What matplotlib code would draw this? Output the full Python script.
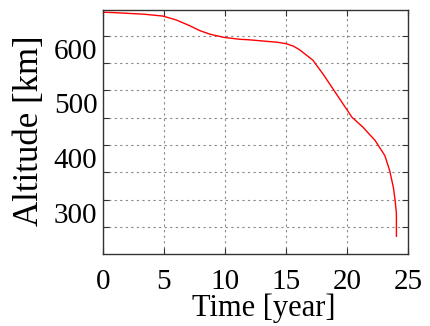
import numpy as np
import matplotlib
matplotlib.use("Agg")
import matplotlib.pyplot as plt
import matplotlib.transforms as mtransforms

# altitude decay
time_yr = [0, 0.8, 3.3, 4.9, 6.0, 7.1, 7.95, 8.8, 9.9, 11.2, 12.0, 14.3,
           15.0, 15.6, 16.1, 17.2, 18.1, 19.2, 19.8, 20.4, 21.3, 22.3, 23.1,
           23.5, 23.8, 23.95, 24.05, 24.05]
alt_km = [643, 642.4, 639.5, 636, 628.9, 618.4, 609.2, 602.6, 597, 593.5,
          592.5, 588, 585.5, 581, 574.5, 555.3, 527.8, 491, 471, 451, 432.7,
          408.3, 380.7, 353, 322.4, 298, 274, 233]
xticks = [0, 5, 10, 15, 20, 25]
yticks = [250, 300, 350, 400, 450, 500, 550, 600]
ylabels = ['', '300', '', '400', '', '500', '', '600']

plt.rcParams['font.family'] = ['Liberation Serif', 'DejaVu Serif']

fig = plt.figure(figsize=(4.3, 3.26), dpi=100)
ax = fig.add_axes([103/430, 1-253.7/326, (408-103)/430, (253.7-9.5)/326])
ax.plot(time_yr, alt_km, color='red', lw=1.0)

ax.set_xlim(0, 25)
ax.set_ylim(201, 648)
ax.set_xticks(xticks)
ax.set_yticks(yticks)
ax.set_yticklabels(ylabels)
ax.grid(True, linestyle=(0, (2, 3)), color='#888888', lw=0.8)
ax.tick_params(direction='in', top=True, right=True, labelsize=21, length=4,
               width=0.8, color='#333333')
ax.tick_params(axis='x', pad=11)
ax.tick_params(axis='y', pad=4)
for s in ax.spines.values():
    s.set_color('#333333')
    s.set_linewidth(1.0)

# labels in the reference sit a bit below their ticks
off = mtransforms.ScaledTranslation(0, -13/100, fig.dpi_scale_trans)
for lab in ax.get_yticklabels():
    lab.set_transform(lab.get_transform() + off)

ax.set_xlabel('Time [year]', fontsize=22)
ax.set_ylabel('Altitude [km]', fontsize=25)
ax.xaxis.set_label_coords(0.527, -0.161)
ax.yaxis.set_label_coords(-0.188, 0.505)

fig.savefig('out.png', dpi=100)
